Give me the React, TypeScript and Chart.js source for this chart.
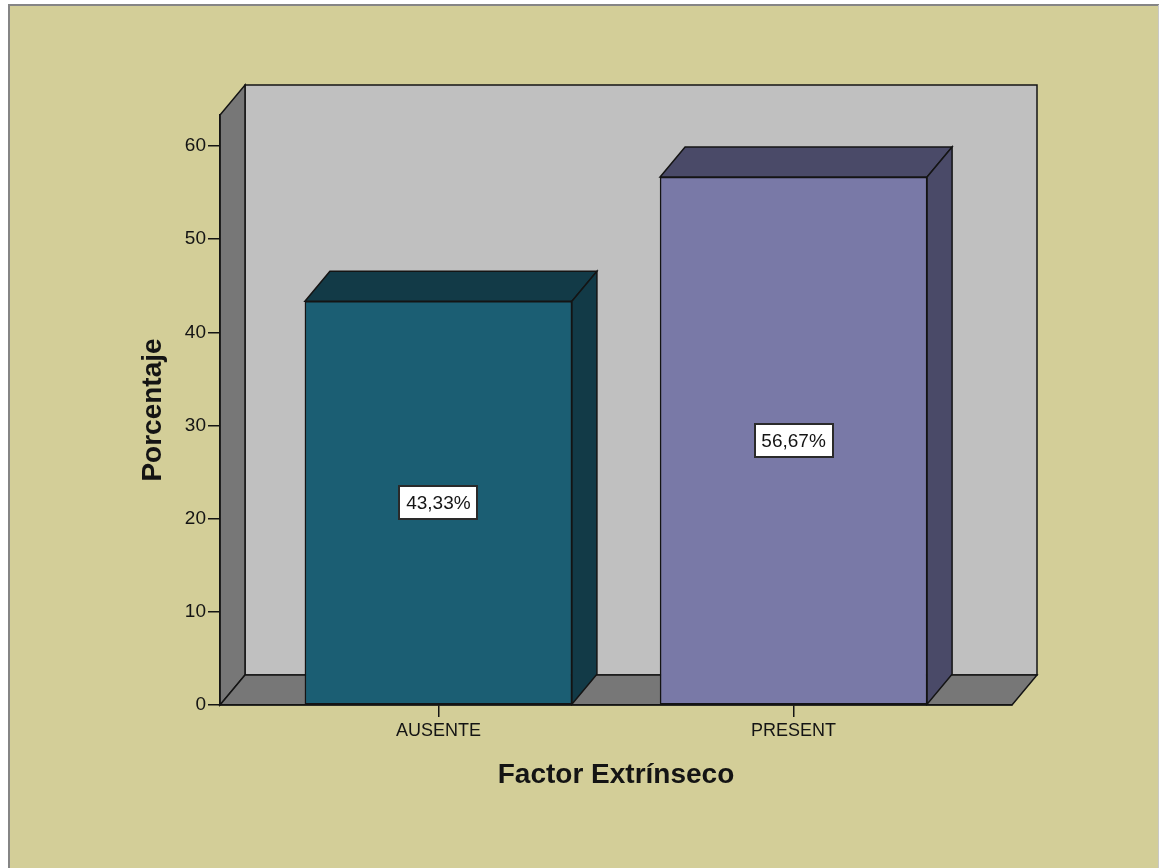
import React, { useEffect, useRef } from 'react';
import { Chart, registerables } from 'chart.js';

Chart.register(...registerables);

// ---- data ----
const categories = ['AUSENTE', 'PRESENT'];
const percentages = [43.33, 56.67];
const yTickValues = [0, 10, 20, 30, 40, 50, 60];
const xTitle = 'Factor Extrínseco';
const yTitle = 'Porcentaje';

// ---- styles ----
const frontColors = ['#1B5E73', '#7979A7'];
const shadeColors = ['#123A47', '#4A4A68'];
const W = 1159;
const H = 868;
const DX = 25;
const DY = 30;
const FONT = '"Liberation Sans", Arial, sans-serif';
const INK = '#141414';

type Pt = [number, number];

function poly(ctx: CanvasRenderingContext2D, pts: Pt[], fill: string) {
  ctx.beginPath();
  ctx.moveTo(pts[0][0], pts[0][1]);
  for (let i = 1; i < pts.length; i++) ctx.lineTo(pts[i][0], pts[i][1]);
  ctx.closePath();
  ctx.fillStyle = fill;
  ctx.fill();
  ctx.stroke();
}

const scene3d = {
  id: 'scene3d',
  beforeDraw(chart: any) {
    const { ctx, chartArea: a } = chart;
    ctx.save();
    ctx.fillStyle = '#ffffff';
    ctx.fillRect(0, 0, W, H);
    ctx.fillStyle = '#D3CE98';
    ctx.fillRect(8, 4, W - 8, H - 4);
    ctx.strokeStyle = '#858585';
    ctx.lineWidth = 2;
    ctx.beginPath();
    ctx.moveTo(9, H);
    ctx.lineTo(9, 5);
    ctx.lineTo(W, 5);
    ctx.stroke();
    ctx.strokeStyle = '#c8c8c8';
    ctx.lineWidth = 1;
    ctx.beginPath();
    ctx.moveTo(W - 0.5, 5);
    ctx.lineTo(W - 0.5, H);
    ctx.stroke();

    const L = a.left, R = a.right, T = a.top, B = a.bottom;
    ctx.lineWidth = 1.5;
    ctx.strokeStyle = INK;
    ctx.lineJoin = 'miter';
    // back wall
    poly(ctx, [[L + DX, T - DY], [R + DX, T - DY], [R + DX, B - DY], [L + DX, B - DY]], '#C0C0C0');
    // left wall
    poly(ctx, [[L, T], [L + DX, T - DY], [L + DX, B - DY], [L, B]], '#777777');
    // floor
    poly(ctx, [[L, B], [L + DX, B - DY], [R + DX, B - DY], [R, B]], '#777777');
    ctx.restore();
  },
  afterDatasetsDraw(chart: any) {
    const { ctx } = chart;
    const meta = chart.getDatasetMeta(0);
    ctx.save();
    meta.data.forEach((el: any, i: number) => {
      const { x, y, base, width } = el.getProps(['x', 'y', 'base', 'width'], true);
      const l = x - width / 2;
      const r = x + width / 2;
      ctx.lineWidth = 1.5;
      ctx.strokeStyle = INK;
      poly(ctx, [[l, y], [l + DX, y - DY], [r + DX, y - DY], [r, y]], shadeColors[i]);
      poly(ctx, [[r, y], [r + DX, y - DY], [r + DX, base - DY], [r, base]], shadeColors[i]);

      const text = percentages[i].toFixed(2).replace('.', ',') + '%';
      ctx.font = `19px ${FONT}`;
      const tw = ctx.measureText(text).width;
      const bw = Math.round(tw + 14);
      const bh = 33;
      const cx = x;
      const cy = (y + base) / 2;
      const bx = Math.round(cx - bw / 2);
      const by = Math.round(cy - bh / 2);
      ctx.fillStyle = '#ffffff';
      ctx.fillRect(bx, by, bw, bh);
      ctx.strokeStyle = '#2a2a2a';
      ctx.lineWidth = 2;
      ctx.strokeRect(bx, by, bw, bh);
      ctx.fillStyle = INK;
      ctx.textAlign = 'center';
      ctx.textBaseline = 'middle';
      ctx.fillText(text, cx, cy + 1);
    });
    ctx.restore();
  },
};

export default function App() {
  const ref = useRef<HTMLCanvasElement | null>(null);

  useEffect(() => {
    if (!ref.current) return;
    const chart = new Chart(ref.current, {
      type: 'bar',
      data: {
        datasets: [
          {
            data: categories.map((_, i) => ({ x: i, y: percentages[i] })),
            backgroundColor: frontColors,
            borderColor: INK,
            borderWidth: 1.5,
            borderSkipped: false,
            barThickness: 267,
          } as any,
        ],
      },
      options: {
        responsive: false,
        animation: false,
        devicePixelRatio: 1,
        layout: { padding: { left: 0, top: 115, right: W - 1012, bottom: 0 } },
        plugins: {
          legend: { display: false },
          tooltip: { enabled: false },
        },
        scales: {
          x: {
            type: 'linear',
            min: -0.615,
            max: 1.615,
            offset: false,
            afterFit: (s: any) => {
              s.height = H - 705;
            },
            afterBuildTicks: (s: any) => {
              s.ticks = categories.map((_, i) => ({ value: i }));
            },
            ticks: {
              callback: (v: any) => categories[Math.round(Number(v))],
              font: { family: FONT, size: 18 },
              color: INK,
              padding: 3,
              autoSkip: false,
              maxRotation: 0,
            },
            grid: {
              offset: false,
              drawOnChartArea: false,
              drawTicks: true,
              tickLength: 12,
              color: INK,
              lineWidth: 1.5,
            },
            border: { display: true, color: INK, width: 1.5 },
            title: {
              display: true,
              text: xTitle,
              color: INK,
              font: { family: FONT, size: 28, weight: 'bold' },
              padding: { top: 0, bottom: 76 },
            },
          },
          y: {
            type: 'linear',
            min: 0,
            max: 63.33,
            afterFit: (s: any) => {
              s.width = 220;
            },
            afterBuildTicks: (s: any) => {
              s.ticks = yTickValues.map((v) => ({ value: v }));
            },
            ticks: {
              font: { family: FONT, size: 19 },
              color: INK,
              padding: 2,
            },
            grid: {
              drawOnChartArea: false,
              drawTicks: true,
              tickLength: 12,
              color: INK,
              lineWidth: 1.5,
            },
            border: { display: true, color: INK, width: 1.5 },
            title: {
              display: true,
              text: yTitle,
              color: INK,
              font: { family: FONT, size: 28, weight: 'bold' },
              padding: { top: 136.5, bottom: 0 },
            },
          },
        },
      } as any,
      plugins: [scene3d],
    });
    return () => chart.destroy();
  }, []);

  return (
    <div style={{ position: 'absolute', left: 0, top: 0, width: W, height: H }}>
      <canvas ref={ref} width={W} height={H} style={{ display: 'block', width: W, height: H }} />
    </div>
  );
}
